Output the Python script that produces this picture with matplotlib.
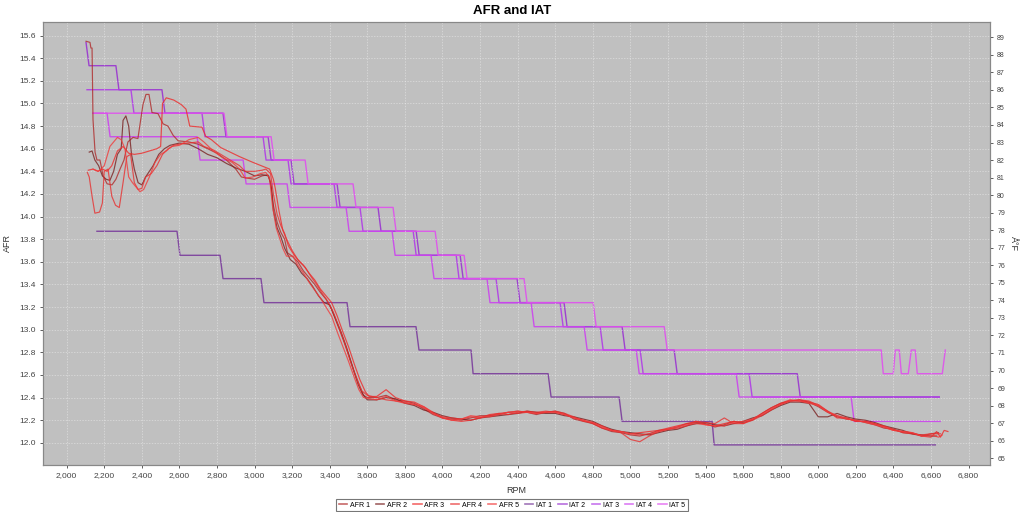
import matplotlib
matplotlib.use("Agg")
import matplotlib.pyplot as plt
from matplotlib.ticker import FuncFormatter, MultipleLocator

plt.rcParams["font.family"] = ["Liberation Sans", "DejaVu Sans"]

# ---- AFR series (RPM, AFR) ----
afr1_rpm = [2103, 2124, 2129, 2135, 2140, 2151, 2161, 2177, 2194, 2215, 2241, 2262, 2284, 2305,
            2326, 2353, 2379, 2406, 2422, 2438, 2454, 2486, 2513, 2539, 2566, 2593, 2650, 2700,
            2750, 2800, 2850, 2900, 2930, 2960, 3000, 3040, 3070, 3085, 3100, 3120, 3140, 3160,
            3175, 3200, 3230, 3260, 3290, 3320, 3350, 3380, 3410, 3440, 3470, 3500, 3530, 3560,
            3580, 3600]
afr1_head = [15.55, 15.54, 15.49, 15.49, 14.86, 14.57, 14.50, 14.50, 14.36, 14.29, 14.28, 14.33,
             14.42, 14.50, 14.66, 14.70, 14.69, 14.99, 15.08, 15.08, 14.92, 14.91, 14.82, 14.80,
             14.72, 14.67, 14.66, 14.64, 14.60, 14.56, 14.50, 14.42, 14.35, 14.34, 14.33, 14.36,
             14.37, 14.30, 14.10, 13.95, 13.86, 13.80, 13.68, 13.65, 13.60, 13.52, 13.46, 13.40,
             13.33, 13.27, 13.18, 13.05, 12.92, 12.78, 12.63, 12.50, 12.42, 12.40]

afr2_rpm = [2120, 2135, 2150, 2170, 2190, 2210, 2230, 2250, 2270, 2290, 2300, 2315, 2330, 2345,
            2360, 2380, 2400, 2420, 2440, 2460, 2490, 2520, 2550, 2600, 2650, 2700, 2750, 2800,
            2850, 2900, 2950, 3000, 3040, 3075, 3090, 3100, 3120, 3140, 3160, 3190, 3220, 3250,
            3280, 3310, 3340, 3370, 3400, 3430, 3460, 3490, 3520, 3550, 3575, 3600]
afr2_head = [14.57, 14.58, 14.50, 14.45, 14.36, 14.33, 14.32, 14.40, 14.55, 14.60, 14.85, 14.89,
             14.80, 14.55, 14.42, 14.30, 14.28, 14.35, 14.40, 14.45, 14.55, 14.60, 14.63, 14.65,
             14.64, 14.60, 14.55, 14.52, 14.47, 14.43, 14.40, 14.36, 14.37, 14.36, 14.25, 14.05,
             13.90, 13.82, 13.72, 13.62, 13.58, 13.50, 13.45, 13.38, 13.30, 13.24, 13.22, 13.10,
             12.98, 12.84, 12.68, 12.52, 12.43, 12.38]

afr3_rpm = [2115, 2140, 2165, 2190, 2215, 2240, 2270, 2300, 2330, 2360, 2400, 2440, 2480, 2500,
            2510, 2530, 2570, 2610, 2635, 2655, 2720, 2740, 2770, 2820, 2870, 2920, 2990, 3050,
            3080, 3100, 3110, 3130, 3150, 3170, 3200, 3230, 3260, 3290, 3320, 3350, 3380, 3410,
            3440, 3470, 3500, 3530, 3560, 3590, 3610]
afr3_head = [14.41, 14.42, 14.40, 14.42, 14.40, 14.45, 14.58, 14.62, 14.56, 14.55, 14.56, 14.58,
             14.60, 14.62, 15.00, 15.05, 15.03, 14.99, 14.95, 14.80, 14.79, 14.71, 14.68, 14.61,
             14.57, 14.53, 14.48, 14.44, 14.42, 14.33, 14.25, 14.05, 13.88, 13.80, 13.70, 13.62,
             13.57, 13.50, 13.44, 13.36, 13.30, 13.24, 13.12, 12.98, 12.85, 12.70, 12.56, 12.45,
             12.41]

afr4_rpm = [2110, 2120, 2135, 2150, 2175, 2190, 2200, 2220, 2240, 2260, 2280, 2300, 2320, 2340,
            2360, 2380, 2400, 2420, 2450, 2480, 2510, 2540, 2570, 2600, 2650, 2700, 2730, 2780,
            2830, 2870, 2920, 2950, 3000, 3040, 3060, 3085, 3100, 3120, 3140, 3160, 3180, 3210,
            3240, 3270, 3300, 3330, 3360, 3390, 3420, 3450, 3480, 3510, 3540, 3570, 3600]
afr4_head = [14.39, 14.35, 14.18, 14.03, 14.04, 14.12, 14.40, 14.42, 14.18, 14.10, 14.08, 14.30,
             14.53, 14.55, 14.30, 14.24, 14.25, 14.35, 14.38, 14.45, 14.55, 14.60, 14.63, 14.64,
             14.65, 14.66, 14.62, 14.59, 14.54, 14.50, 14.45, 14.40, 14.40, 14.41, 14.42, 14.38,
             14.20, 14.02, 13.92, 13.85, 13.74, 13.66, 13.60, 13.55, 13.47, 13.40, 13.32, 13.25,
             13.15, 13.02, 12.88, 12.72, 12.58, 12.46, 12.42]

afr5_rpm = [2140, 2170, 2200, 2230, 2250, 2270, 2290, 2310, 2330, 2350, 2370, 2390, 2410, 2440,
            2470, 2500, 2530, 2560, 2600, 2650, 2700, 2730, 2780, 2830, 2880, 2920, 2950, 2990,
            3030, 3060, 3080, 3095, 3115, 3135, 3150, 3170, 3205, 3230, 3260, 3290, 3320, 3350,
            3380, 3410, 3440, 3470, 3500, 3530, 3555, 3580]
afr5_head = [14.42, 14.40, 14.45, 14.62, 14.66, 14.70, 14.68, 14.60, 14.35, 14.30, 14.26, 14.22,
             14.24, 14.35, 14.48, 14.55, 14.58, 14.62, 14.63, 14.68, 14.70, 14.66, 14.58, 14.52,
             14.48, 14.42, 14.34, 14.35, 14.38, 14.39, 14.34, 14.10, 13.90, 13.80, 13.72, 13.65,
             13.65, 13.57, 13.50, 13.42, 13.35, 13.28, 13.20, 13.12, 12.98, 12.85, 12.72, 12.58,
             12.47, 12.40]

# rich section shared RPM samples
tail_rpm = [3650, 3700, 3750, 3800, 3850, 3900, 3950, 4000, 4050, 4100,
            4150, 4200, 4250, 4300, 4350, 4400, 4450, 4500, 4550, 4600,
            4650, 4700, 4750, 4800, 4850, 4900, 4950, 5000, 5050, 5100,
            5150, 5200, 5250, 5300, 5350, 5400, 5450, 5500, 5550, 5600,
            5650, 5700, 5750, 5800, 5850, 5900, 5950, 6000, 6050, 6100,
            6150, 6200, 6250, 6300, 6350, 6400, 6450, 6500, 6550, 6600]
afr1_tail = [12.40, 12.42, 12.38, 12.37, 12.35, 12.30, 12.25, 12.22, 12.21, 12.20,
             12.22, 12.24, 12.24, 12.25, 12.27, 12.28, 12.27, 12.25, 12.27, 12.28,
             12.26, 12.21, 12.19, 12.17, 12.13, 12.10, 12.09, 12.07, 12.06, 12.08,
             12.11, 12.12, 12.14, 12.17, 12.18, 12.17, 12.14, 12.16, 12.19, 12.18,
             12.20, 12.26, 12.31, 12.35, 12.37, 12.38, 12.36, 12.32, 12.27, 12.23,
             12.21, 12.20, 12.18, 12.16, 12.13, 12.12, 12.09, 12.08, 12.06, 12.08]
afr2_tail = [12.38, 12.40, 12.39, 12.35, 12.33, 12.29, 12.27, 12.24, 12.22, 12.21,
             12.20, 12.22, 12.23, 12.24, 12.25, 12.26, 12.28, 12.27, 12.26, 12.26,
             12.24, 12.23, 12.21, 12.19, 12.15, 12.12, 12.10, 12.09, 12.08, 12.07,
             12.09, 12.11, 12.12, 12.15, 12.17, 12.18, 12.16, 12.15, 12.17, 12.19,
             12.22, 12.24, 12.29, 12.33, 12.36, 12.36, 12.35, 12.23, 12.23, 12.26,
             12.23, 12.21, 12.20, 12.18, 12.15, 12.13, 12.11, 12.08, 12.07, 12.06]
afr3_tail = [12.41, 12.47, 12.40, 12.37, 12.36, 12.32, 12.27, 12.22, 12.20, 12.19,
             12.20, 12.22, 12.25, 12.26, 12.25, 12.27, 12.28, 12.27, 12.28, 12.27,
             12.25, 12.22, 12.20, 12.17, 12.13, 12.11, 12.10, 12.08, 12.09, 12.10,
             12.11, 12.13, 12.15, 12.17, 12.19, 12.16, 12.15, 12.17, 12.19, 12.17,
             12.21, 12.26, 12.31, 12.35, 12.38, 12.37, 12.36, 12.34, 12.28, 12.22,
             12.22, 12.19, 12.19, 12.17, 12.14, 12.11, 12.10, 12.09, 12.06, 12.05]
afr4_tail = [12.40, 12.38, 12.37, 12.36, 12.34, 12.31, 12.26, 12.23, 12.22, 12.21,
             12.23, 12.22, 12.24, 12.26, 12.27, 12.26, 12.27, 12.26, 12.27, 12.28,
             12.26, 12.23, 12.19, 12.18, 12.15, 12.11, 12.09, 12.03, 12.01, 12.06,
             12.10, 12.12, 12.13, 12.15, 12.19, 12.18, 12.17, 12.22, 12.17, 12.17,
             12.20, 12.24, 12.29, 12.34, 12.37, 12.38, 12.37, 12.33, 12.28, 12.24,
             12.22, 12.19, 12.19, 12.17, 12.15, 12.12, 12.09, 12.08, 12.07, 12.08]
afr5_tail = [12.38, 12.41, 12.37, 12.35, 12.34, 12.32, 12.26, 12.22, 12.20, 12.21,
             12.24, 12.23, 12.23, 12.25, 12.27, 12.28, 12.27, 12.26, 12.27, 12.27,
             12.25, 12.22, 12.20, 12.18, 12.14, 12.11, 12.10, 12.08, 12.07, 12.08,
             12.10, 12.12, 12.14, 12.16, 12.17, 12.16, 12.15, 12.15, 12.18, 12.19,
             12.21, 12.25, 12.30, 12.34, 12.37, 12.37, 12.35, 12.33, 12.27, 12.24,
             12.21, 12.20, 12.18, 12.16, 12.14, 12.11, 12.10, 12.09, 12.06, 12.07]

afr1_end_rpm, afr1_end = [6640], [12.09]
afr2_end_rpm, afr2_end = [6630], [12.06]
afr3_end_rpm, afr3_end = [6630, 6650, 6670, 6690], [12.10, 12.05, 12.11, 12.10]
afr4_end_rpm, afr4_end = [6650], [12.08]
afr5_end_rpm, afr5_end = [6640, 6660], [12.05, 12.07]

# ---- IAT series (RPM, deg F) step lines ----
iat1_rpm = [2161, 2587, 2603, 2816, 2832, 3034, 3050, 3492, 3508, 3859, 3875, 4152, 4163, 4562,
            4578, 4940, 4956, 5435, 5446, 6623]
iat1 = [77.94, 77.94, 76.57, 76.57, 75.24, 75.24, 73.87, 73.87, 72.50, 72.50, 71.17, 71.17,
        69.82, 69.82, 68.49, 68.49, 67.10, 67.10, 65.76, 65.76]

iat2_rpm = [2103, 2119, 2262, 2278, 2507, 2523, 2832, 2848, 3072, 3088, 3194, 3210, 3439, 3455,
            3657, 3673, 3860, 3876, 4094, 4110, 4397, 4413, 4647, 4663, 4956, 4972, 5233, 5249,
            5888, 5904, 6644]
iat2 = [88.70, 87.38, 87.38, 86.01, 86.01, 84.67, 84.67, 83.33, 83.33, 82.00, 82.00, 80.64,
        80.64, 79.30, 79.30, 77.94, 77.94, 76.57, 76.57, 75.24, 75.24, 73.87, 73.87, 72.50,
        72.50, 71.17, 71.17, 69.82, 69.82, 68.49, 68.49]

iat3_rpm = [2108, 2342, 2358, 2720, 2736, 3045, 3061, 3178, 3194, 3423, 3439, 3561, 3577, 3844,
            3860, 4073, 4088, 4285, 4301, 4626, 4642, 4839, 4855, 5052, 5068, 5632, 5648, 6644]
iat3 = [86.01, 86.01, 84.67, 84.67, 83.33, 83.33, 82.00, 82.00, 80.64, 80.64, 79.30, 79.30,
        77.94, 77.94, 76.57, 76.57, 75.24, 75.24, 73.87, 73.87, 72.50, 72.50, 71.17, 71.17,
        69.82, 69.82, 68.49, 68.49]

iat4_rpm = [2140, 2215, 2231, 2694, 2710, 2939, 2955, 3173, 3189, 3487, 3503, 3732, 3748, 3939,
            3955, 4237, 4253, 4472, 4488, 4754, 4770, 5031, 5047, 5563, 5579, 6175, 6191, 6649]
iat4 = [84.67, 84.67, 83.33, 83.33, 82.00, 82.00, 80.64, 80.64, 79.30, 79.30, 77.94, 77.94,
        76.57, 76.57, 75.24, 75.24, 73.87, 73.87, 72.50, 72.50, 71.17, 71.17, 69.82, 69.82,
        68.49, 68.49, 67.10, 67.10]

iat5_rpm = [2140, 2837, 2853, 3088, 3104, 3269, 3285, 3524, 3540, 3737, 3753, 3961, 3977, 4115,
            4131, 4434, 4450, 4802, 4818, 5180, 5196, 6335, 6346, 6399, 6410, 6431, 6442, 6479,
            6495, 6516, 6527, 6660, 6676]
iat5 = [84.67, 84.67, 83.33, 83.33, 82.00, 82.00, 80.64, 80.64, 79.30, 79.30, 77.94, 77.94,
        76.57, 76.57, 75.24, 75.24, 73.87, 73.87, 72.50, 72.50, 71.17, 71.17, 69.82, 69.82,
        71.17, 71.17, 69.82, 69.82, 71.17, 71.17, 69.82, 69.82, 71.17]

afr_series = [
    ("AFR 1", afr1_rpm + tail_rpm + afr1_end_rpm, afr1_head + afr1_tail + afr1_end, "#b02a2a"),
    ("AFR 2", afr2_rpm + tail_rpm + afr2_end_rpm, afr2_head + afr2_tail + afr2_end, "#7a2020"),
    ("AFR 3", afr3_rpm + tail_rpm + afr3_end_rpm, afr3_head + afr3_tail + afr3_end, "#ee2a2a"),
    ("AFR 4", afr4_rpm + tail_rpm + afr4_end_rpm, afr4_head + afr4_tail + afr4_end, "#e83030"),
    ("AFR 5", afr5_rpm + tail_rpm + afr5_end_rpm, afr5_head + afr5_tail + afr5_end, "#f23a3a"),
]
iat_series = [
    ("IAT 1", iat1_rpm, iat1, "#7a3c9c"),
    ("IAT 2", iat2_rpm, iat2, "#9a34d0"),
    ("IAT 3", iat3_rpm, iat3, "#b03ce6"),
    ("IAT 4", iat4_rpm, iat4, "#cc44ee"),
    ("IAT 5", iat5_rpm, iat5, "#e050ee"),
]

tick_color = "#444444"

fig = plt.figure(figsize=(10.24, 5.12), dpi=100)
ax = fig.add_axes([0.042, 0.092, 0.925, 0.865])
ax2 = ax.twinx()

# AFR on top of IAT (primary dataset drawn last)
ax.set_zorder(ax2.get_zorder() + 1)
ax.patch.set_visible(False)
ax2.patch.set_visible(True)
ax2.set_facecolor("#c0c0c0")

for label, x, y, c in iat_series:
    ax2.plot(x, y, color=c, lw=1.0, alpha=0.9)
for label, x, y, c in afr_series:
    ax.plot(x, y, color=c, lw=0.85, alpha=0.8)

ax.set_xlim(1874, 6915)
ax.set_ylim(11.805, 15.72)
ax2.set_ylim(64.62, 89.87)

ax.xaxis.set_major_locator(MultipleLocator(200))
ax.xaxis.set_major_formatter(FuncFormatter(lambda v, p: f"{int(v):,}"))
ax.yaxis.set_major_locator(MultipleLocator(0.2))
ax.yaxis.set_major_formatter(FuncFormatter(lambda v, p: f"{v:.1f}"))
ax2.yaxis.set_major_locator(MultipleLocator(1))
ax2.yaxis.set_major_formatter(FuncFormatter(lambda v, p: f"{int(round(v))}"))

ax.grid(True, color="#ececec", linestyle=(0, (2, 2)), lw=0.5, alpha=0.7)
ax.tick_params(axis="both", labelsize=6, colors=tick_color, length=2, width=0.6, pad=3)
ax2.tick_params(axis="y", labelsize=5, colors=tick_color, length=2, width=0.6, pad=3)

for a in (ax, ax2):
    for s in a.spines.values():
        s.set_color("#888888")
        s.set_linewidth(0.8)

ax.set_xlabel("RPM", fontsize=6.5, color="#333333")
ax.xaxis.set_label_coords(0.5, -0.047)
ax.set_ylabel("AFR", fontsize=6.5, color="#333333")
ax.yaxis.set_label_coords(-0.033, 0.5)
ax2.set_ylabel("Å°F", fontsize=6.5, color="#333333", rotation=270, va="center")
ax2.yaxis.set_label_coords(1.024, 0.5)
fig.suptitle("AFR and IAT", fontsize=9.5, fontweight="bold", y=0.99)

handles = [plt.Line2D([], [], color=c, lw=1.2, alpha=0.7) for _, _, _, c in afr_series + iat_series]
labels = [s[0] for s in afr_series + iat_series]
leg = fig.legend(handles, labels, loc="lower center", bbox_to_anchor=(0.5, 0.0), ncol=10,
                 fontsize=5, frameon=True, fancybox=False, handlelength=1.2,
                 handletextpad=0.4, columnspacing=0.88, borderpad=0.35, borderaxespad=0.15)
leg.get_frame().set_edgecolor("#555555")
leg.get_frame().set_linewidth(0.8)

fig.savefig("out.png", dpi=100)
